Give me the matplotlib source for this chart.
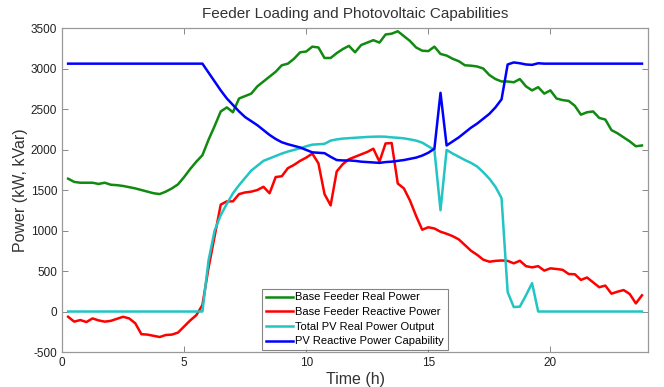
import numpy as np
import matplotlib
matplotlib.use("Agg")
import matplotlib.pyplot as plt

plt.rcParams['font.family'] = ['Liberation Sans', 'DejaVu Sans']
plt.rcParams['axes.unicode_minus'] = False

# tempo em horas (amostras de 15 min)
time_h = np.arange(1, 96) * 0.25

# potência ativa do alimentador base (kW)
feeder_real = [
    1640, 1600, 1590, 1590,
    1590, 1575, 1590, 1565,
    1560, 1550, 1535, 1520,
    1500, 1480, 1460, 1450,
    1480, 1520, 1570, 1660,
    1760, 1850, 1930, 2120,
    2290, 2470, 2520, 2460,
    2630, 2660, 2690, 2780,
    2840, 2900, 2960, 3040,
    3060, 3120, 3200, 3210,
    3270, 3260, 3130, 3130,
    3190, 3240, 3280, 3200,
    3290, 3320, 3350, 3320,
    3420, 3430, 3460, 3400,
    3340, 3260, 3220, 3215,
    3270, 3180, 3160, 3120,
    3090, 3040, 3035, 3025,
    3000, 2920, 2870, 2840,
    2840, 2830, 2870, 2780,
    2730, 2770, 2690, 2730,
    2630, 2610, 2600, 2540,
    2430, 2460, 2470, 2390,
    2370, 2240, 2200, 2150,
    2100, 2040, 2050,
]

# potência reativa do alimentador base (kVar)
feeder_reactive = [
    -65, -125, -105, -130,
    -85, -110, -125, -115,
    -90, -65, -85, -145,
    -280, -285, -300, -315,
    -290, -285, -260, -185,
    -110, -45, 80, 540,
    930, 1320, 1360, 1360,
    1450, 1470, 1480, 1500,
    1540, 1460, 1660, 1670,
    1770, 1810, 1860, 1900,
    1950, 1830, 1450, 1310,
    1730, 1820, 1880, 1910,
    1940, 1970, 2010, 1850,
    2075, 2080, 1580, 1520,
    1370, 1180, 1010, 1040,
    1025, 985, 960, 930,
    890, 820, 750, 700,
    640, 615, 625, 630,
    625, 595, 627, 560,
    545, 560, 505, 533,
    525, 515, 463, 460,
    390, 420, 360, 300,
    320, 220, 245, 265,
    216, 100, 200,
]

# saída total de potência ativa PV (kW)
pv_real = [0] * 23 + [
    630,
    1000, 1190, 1330, 1460,
    1560, 1650, 1740, 1800,
    1860, 1890, 1920, 1950,
    1975, 1995, 2015, 2040,
    2060, 2065, 2070, 2110,
    2125, 2135, 2140, 2145,
    2150, 2155, 2158, 2160,
    2158, 2150, 2145, 2138,
    2125, 2110, 2085, 2040,
    1995, 1250, 1995, 1950,
    1910, 1870, 1835, 1790,
    1720, 1640, 1540, 1400,
    240, 55, 60, 200,
    350, 0,
] + [0] * 17

# capacidade de potência reativa PV (kVar)
pv_reactive_cap = [3060] * 23 + [
    2950,
    2840, 2730, 2630, 2550,
    2470, 2400, 2350, 2300,
    2240, 2180, 2130, 2090,
    2065, 2045, 2025, 1995,
    1965, 1960, 1955, 1910,
    1870, 1865, 1865, 1860,
    1850, 1845, 1840, 1835,
    1845, 1850, 1860, 1870,
    1885, 1900, 1925, 1960,
    2010, 2700, 2050, 2100,
    2150, 2210, 2270, 2320,
    2380, 2440, 2520, 2620,
    3050, 3075, 3065, 3050,
    3045, 3065,
] + [3060] * 17

fig = plt.figure(figsize=(6.64, 3.87), dpi=100)
ax = fig.add_axes([0.0934, 0.0904, 0.8826, 0.8372])

ax.plot(time_h, feeder_real, color='#108a10', lw=1.8, label='Base Feeder Real Power')
ax.plot(time_h, feeder_reactive, color='#ff0000', lw=1.8, label='Base Feeder Reactive Power')
ax.plot(time_h, pv_real, color='#22c4c4', lw=1.8, label='Total PV Real Power Output')
ax.plot(time_h, pv_reactive_cap, color='#0000ff', lw=1.8, label='PV Reactive Power Capability')

ax.set_xlim(0, 24)
ax.set_ylim(-500, 3500)
ax.set_xticks([0, 5, 10, 15, 20])
ax.set_yticks(np.arange(-500, 3501, 500))
ax.tick_params(direction='in', top=True, right=True, length=4, width=0.7,
               colors='#888888', labelcolor='#222222', labelsize=8.5)
for s in ax.spines.values():
    s.set_color('#999999')
    s.set_linewidth(0.9)

ax.set_title('Feeder Loading and Photovoltaic Capabilities', fontsize=11, color='#333333', pad=7)
ax.set_xlabel('Time (h)', fontsize=11.5, color='#333333', labelpad=2)
ax.set_ylabel('Power (kW, kVar)', fontsize=11.5, color='#333333', labelpad=2)

leg = ax.legend(loc='lower center', bbox_to_anchor=(0.5, 0.0), fontsize=8, frameon=True,
                fancybox=False, edgecolor='#666666', handlelength=2.4, borderpad=0.35,
                labelspacing=0.42, handletextpad=0.2, borderaxespad=0.15)
leg.get_frame().set_linewidth(0.8)

fig.savefig('out.png', dpi=100)
